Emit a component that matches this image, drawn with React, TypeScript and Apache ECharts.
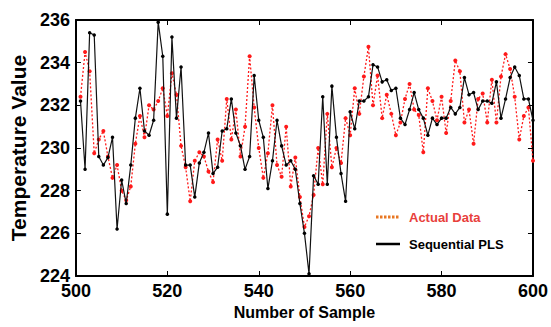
import React, { useEffect, useRef } from "react";
import * as echarts from "echarts";

const FIRST_SAMPLE = 501;

const actualData: number[] = [
  232.4, 234.5, 233.6, 229.75, 230.4, 230.8, 229.6, 228.6, 229.2, 228.0,
  227.55, 228.2, 230.2, 231.5, 230.5, 232.0, 231.8, 232.2, 232.8, 231.5,
  233.5, 232.5, 230.1, 229.1, 227.5, 229.4, 229.8, 229.6, 228.9, 228.4,
  230.4, 229.4, 232.3, 230.4, 231.8, 229.6, 231.0, 234.3, 231.9, 230.0,
  228.6, 229.75, 232.0, 229.2, 228.65, 231.0, 228.2, 229.55, 227.7, 226.3,
  226.8, 227.8, 230.0, 228.3, 231.6, 229.1, 230.0, 229.3, 231.4, 230.6,
  232.8, 231.6, 233.35, 234.75, 232.0, 233.4, 231.4, 232.5, 231.6, 230.6,
  231.2, 232.3, 233.0, 231.8, 231.55, 229.8, 232.8, 232.2, 231.3, 232.4,
  230.7, 232.2, 234.1, 233.6, 231.2, 231.8, 230.2, 232.3, 232.55, 231.2,
  233.2, 231.2, 233.35, 234.4, 233.7, 232.4, 230.4, 231.5, 231.9, 229.4,
];

const sequentialPLS: number[] = [
  232.2, 229.0, 235.4, 235.3, 229.6, 229.2, 229.55, 230.5, 226.2, 228.5,
  227.4, 229.2, 231.4, 232.8, 230.8, 230.6, 231.3, 235.9, 234.3, 226.9,
  235.2, 231.4, 233.8, 229.2, 229.2, 227.7, 229.3, 229.8, 230.7, 228.8,
  229.1, 230.8, 230.9, 232.3, 230.7, 230.1, 229.0, 229.6, 233.4, 231.3,
  230.5, 228.1, 229.4, 231.3, 230.1, 229.2, 229.4, 229.0, 227.4, 226.0,
  224.1, 228.7, 228.3, 232.4, 228.3, 232.9, 230.5, 228.8, 227.5, 231.7,
  230.9, 232.2, 232.2, 232.4, 233.9, 233.8, 233.1, 233.2, 232.7, 232.8,
  231.4, 231.1, 231.8, 232.6, 231.8, 231.4, 230.6, 231.4, 231.1, 231.4,
  231.4, 231.9, 231.6, 231.9, 233.3, 232.5, 232.6, 231.8, 232.2, 232.2,
  232.1, 233.1, 231.4, 232.3, 233.3, 233.8, 233.4, 232.3, 232.3, 231.3,
];

const seriesNames = ["Actual Data", "Sequential PLS"];
const xLabelName = "Number of Sample";
const yLabelName = "Temperature Value";

const FONT = "'Liberation Sans', Arial, sans-serif";

export default function App() {
  const ref = useRef<HTMLDivElement>(null);

  useEffect(() => {
    if (!ref.current) return;
    const chart = echarts.init(ref.current, undefined, { renderer: "svg" });
    const toPairs = (arr: number[]) => arr.map((v, i) => [FIRST_SAMPLE + i, v]);

    const axisLine = { show: true, lineStyle: { color: "#000", width: 2 } };
    const tickInside = { show: true, inside: true, length: 5, lineStyle: { color: "#000", width: 1 } };
    const labelStyle = { color: "#000", fontFamily: FONT, fontWeight: "bold" as const, fontSize: 18 };

    chart.setOption({
      animation: false,
      backgroundColor: "#fff",
      grid: { left: 68, right: 14, top: 20, bottom: 51, containLabel: false },
      xAxis: [
        {
          type: "value",
          min: 500,
          max: 600,
          interval: 20,
          axisLine,
          axisTick: tickInside,
          splitLine: { show: false },
          axisLabel: { ...labelStyle, margin: 6 },
          name: xLabelName,
          nameLocation: "middle",
          nameGap: 26,
          nameTextStyle: { color: "#000", fontFamily: FONT, fontWeight: "bold", fontSize: 16 },
        },
        {
          type: "value",
          position: "top",
          min: 500,
          max: 600,
          interval: 20,
          axisLine,
          axisTick: tickInside,
          splitLine: { show: false },
          axisLabel: { show: false },
        },
      ],
      yAxis: [
        {
          type: "value",
          min: 224,
          max: 236,
          interval: 2,
          axisLine,
          axisTick: tickInside,
          splitLine: { show: false },
          axisLabel: { ...labelStyle, margin: 6 },
          name: yLabelName,
          nameLocation: "middle",
          nameGap: 42,
          nameTextStyle: { color: "#000", fontFamily: FONT, fontWeight: "bold", fontSize: 21 },
        },
        {
          type: "value",
          position: "right",
          min: 224,
          max: 236,
          interval: 2,
          axisLine,
          axisTick: tickInside,
          splitLine: { show: false },
          axisLabel: { show: false },
        },
      ],
      series: [
        {
          name: seriesNames[0],
          type: "line",
          data: toPairs(actualData),
          symbol: "circle",
          symbolSize: 4,
          showSymbol: true,
          itemStyle: { color: "#ff1a1a" },
          lineStyle: { color: "#ff1a1a", width: 1.3, type: [2, 2] },
          z: 2,
        },
        {
          name: seriesNames[1],
          type: "line",
          data: toPairs(sequentialPLS),
          symbol: "circle",
          symbolSize: 3.5,
          showSymbol: true,
          itemStyle: { color: "#000" },
          lineStyle: { color: "#111", width: 1.2 },
          z: 3,
        },
      ],
      graphic: [
        {
          type: "line",
          shape: { x1: 376, y1: 217, x2: 400, y2: 217 },
          style: { stroke: "#e87722", lineWidth: 3, lineDash: [2.5, 1.5] },
        },
        {
          type: "text",
          x: 409,
          y: 217,
          style: {
            text: seriesNames[0],
            fill: "#e8403c",
            font: `bold 13px ${FONT}`,
            textVerticalAlign: "middle",
            verticalAlign: "middle",
          },
        },
        {
          type: "line",
          shape: { x1: 376, y1: 244, x2: 400, y2: 244 },
          style: { stroke: "#000", lineWidth: 2.5 },
        },
        {
          type: "text",
          x: 409,
          y: 244,
          style: {
            text: seriesNames[1],
            fill: "#000",
            font: `bold 13px ${FONT}`,
            textVerticalAlign: "middle",
            verticalAlign: "middle",
          },
        },
      ],
    });

    return () => chart.dispose();
  }, []);

  return <div ref={ref} style={{ width: 551, height: 327, position: "absolute", left: 0, top: 0 }} />;
}
